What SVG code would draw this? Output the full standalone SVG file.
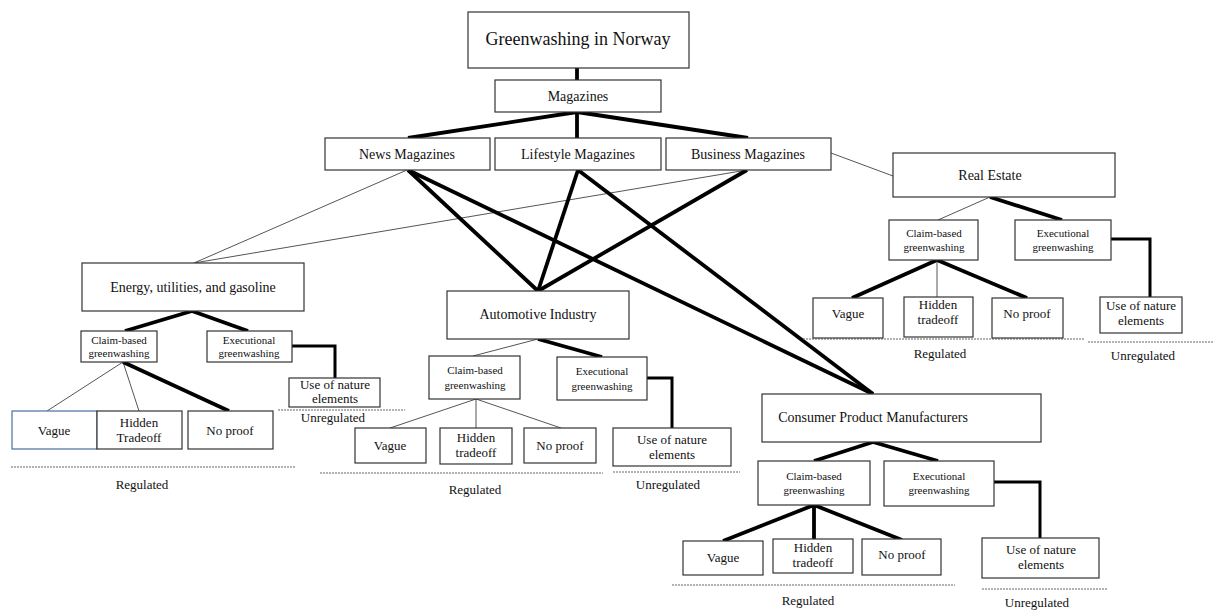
<svg xmlns="http://www.w3.org/2000/svg" width="1213" height="613" viewBox="0 0 1213 613">
<style>
rect.b{fill:#fff;stroke:#333;stroke-width:1.2}
text{font-family:"Liberation Serif","Times New Roman",serif;fill:#111;text-anchor:middle}
.t18{font-size:18px}
.t14{font-size:14px}
.t13{font-size:13px}
.t11{font-size:11px}
.thick{stroke:#000;stroke-width:3.8;fill:none}
.med{stroke:#000;stroke-width:3;fill:none}
.thin{stroke:#555;stroke-width:1;fill:none}
.dash{stroke:#666;stroke-width:1;stroke-dasharray:2 1;fill:none}
</style>
<rect width="1213" height="613" fill="#fff"/>
<g id="connectors">
<line class="thick" x1="577" y1="68" x2="577" y2="80"/>
<line class="thick" x1="577" y1="112" x2="408" y2="138"/>
<line class="thick" x1="577" y1="112" x2="577" y2="138"/>
<line class="thick" x1="577" y1="112" x2="748" y2="138"/>
<line class="thin" x1="407" y1="170" x2="194" y2="263"/>
<line class="thin" x1="747" y1="170" x2="194" y2="263"/>
<line class="thick" x1="408" y1="170" x2="538" y2="291"/>
<line class="thick" x1="578" y1="170" x2="538" y2="291"/>
<line class="thick" x1="747" y1="170" x2="538" y2="291"/>
<line class="thick" x1="408" y1="170" x2="873" y2="394"/>
<line class="thick" x1="578" y1="170" x2="873" y2="394"/>
<line class="thin" x1="831" y1="153" x2="893" y2="176"/>
<!-- Energy -->
<line class="thick" x1="192" y1="311" x2="125" y2="331"/>
<line class="thick" x1="192" y1="311" x2="248" y2="331"/>
<line class="thin" x1="123" y1="362" x2="47" y2="411"/>
<line class="thin" x1="123" y1="362" x2="139" y2="411"/>
<line class="thick" x1="123" y1="362" x2="229" y2="411"/>
<polyline class="med" points="292,346 335,346 335,378"/>
<!-- Automotive -->
<line class="thin" x1="538" y1="339" x2="473" y2="356"/>
<line class="thick" x1="538" y1="339" x2="602" y2="357"/>
<line class="thin" x1="476" y1="399" x2="390" y2="428"/>
<line class="thin" x1="476" y1="399" x2="476" y2="428"/>
<line class="thin" x1="476" y1="399" x2="561" y2="428"/>
<polyline class="med" points="647,378 672,378 672,428"/>
<!-- Real Estate -->
<line class="thin" x1="990" y1="197" x2="938" y2="220"/>
<line class="thick" x1="990" y1="197" x2="1062" y2="220"/>
<line class="thick" x1="937" y1="260" x2="852" y2="298"/>
<line class="thin" x1="937" y1="260" x2="937" y2="298"/>
<line class="thick" x1="937" y1="260" x2="1027" y2="298"/>
<polyline class="med" points="1111,239 1150,239 1150,297"/>
<!-- Consumer -->
<line class="thick" x1="873" y1="442" x2="814" y2="461"/>
<line class="thick" x1="873" y1="442" x2="938" y2="461"/>
<line class="thick" x1="814" y1="505" x2="723" y2="541"/>
<line class="thick" x1="814" y1="505" x2="814" y2="540"/>
<line class="thick" x1="814" y1="505" x2="902" y2="540"/>
<polyline class="med" points="994,482 1040,482 1040,538"/>
<!-- regulated / unregulated separators -->
<line class="dash" x1="11" y1="467" x2="295" y2="467"/>
<line class="dash" x1="278" y1="410" x2="405" y2="410"/>
<line class="dash" x1="320" y1="473" x2="603" y2="473"/>
<line class="dash" x1="613" y1="472" x2="740" y2="472"/>
<line class="dash" x1="803" y1="339" x2="1085" y2="339"/>
<line class="dash" x1="1088" y1="342" x2="1213" y2="342"/>
<line class="dash" x1="672" y1="585" x2="955" y2="585"/>
<line class="dash" x1="982" y1="589" x2="1108" y2="589"/>
</g>
<g id="root"><rect class="b" x="468" y="12" width="221" height="56"/><text class="t18" x="578" y="45">Greenwashing in Norway</text></g>
<g id="magazines"><rect class="b" x="495" y="80" width="166" height="32"/><text class="t14" x="578" y="101">Magazines</text></g>
<g id="news"><rect class="b" x="325" y="138" width="165" height="32"/><text class="t14" x="407" y="159">News Magazines</text></g>
<g id="lifestyle"><rect class="b" x="495" y="138" width="166" height="32"/><text class="t14" x="578" y="159">Lifestyle  Magazines</text></g>
<g id="business"><rect class="b" x="666" y="138" width="165" height="32"/><text class="t14" x="748" y="159">Business  Magazines</text></g>

<g id="energy"><rect class="b" x="82" y="263" width="222" height="48"/><text class="t14" x="193" y="292">Energy, utilities, and gasoline</text></g>
<g id="energy-claim"><rect class="b" x="81" y="331" width="76" height="31"/><text class="t11" x="119" y="344">Claim-based</text><text class="t11" x="119" y="357">greenwashing</text></g>
<g id="energy-exec"><rect class="b" x="207" y="331" width="85" height="31"/><text class="t11" x="249" y="344">Executional</text><text class="t11" x="249" y="357">greenwashing</text></g>
<g id="energy-vague"><rect x="12" y="411" width="85" height="38" fill="#fff" stroke="#4a6fa5" stroke-width="1.2"/><text class="t13" x="54" y="435">Vague</text></g>
<g id="energy-hidden"><rect class="b" x="97" y="411" width="85" height="38"/><text class="t13" x="139" y="427">Hidden</text><text class="t13" x="139" y="442">Tradeoff</text></g>
<g id="energy-noproof"><rect class="b" x="188" y="411" width="85" height="38"/><text class="t13" x="230" y="435">No proof</text></g>
<g id="energy-nature"><rect class="b" x="289" y="378" width="91" height="29"/><text class="t13" x="335" y="389">Use of nature</text><text class="t13" x="335" y="403">elements</text></g>
<g id="energy-labels"><text class="t13" x="333" y="422">Unregulated</text><text class="t13" x="142" y="489">Regulated</text></g>

<g id="auto"><rect class="b" x="447" y="291" width="182" height="48"/><text class="t14" x="538" y="319">Automotive  Industry</text></g>
<g id="auto-claim"><rect class="b" x="429" y="356" width="91" height="43"/><text class="t11" x="475" y="374">Claim-based</text><text class="t11" x="475" y="389">greenwashing</text></g>
<g id="auto-exec"><rect class="b" x="557" y="357" width="90" height="43"/><text class="t11" x="602" y="375">Executional</text><text class="t11" x="602" y="390">greenwashing</text></g>
<g id="auto-vague"><rect class="b" x="355" y="428" width="71" height="35"/><text class="t13" x="390" y="450">Vague</text></g>
<g id="auto-hidden"><rect class="b" x="440" y="428" width="72" height="36"/><text class="t13" x="476" y="442">Hidden</text><text class="t13" x="476" y="457">tradeoff</text></g>
<g id="auto-noproof"><rect class="b" x="524" y="428" width="72" height="35"/><text class="t13" x="560" y="450">No proof</text></g>
<g id="auto-nature"><rect class="b" x="613" y="428" width="118" height="38"/><text class="t13" x="672" y="444">Use of nature</text><text class="t13" x="672" y="459">elements</text></g>
<g id="auto-labels"><text class="t13" x="475" y="494">Regulated</text><text class="t13" x="668" y="489">Unregulated</text></g>

<g id="realestate"><rect class="b" x="893" y="153" width="222" height="44"/><text class="t14" x="990" y="180">Real Estate</text></g>
<g id="re-claim"><rect class="b" x="889" y="220" width="89" height="40"/><text class="t11" x="934" y="237">Claim-based</text><text class="t11" x="934" y="251">greenwashing</text></g>
<g id="re-exec"><rect class="b" x="1015" y="220" width="96" height="40"/><text class="t11" x="1063" y="237">Executional</text><text class="t11" x="1063" y="251">greenwashing</text></g>
<g id="re-vague"><rect class="b" x="813" y="298" width="70" height="40"/><text class="t13" x="848" y="318">Vague</text></g>
<g id="re-hidden"><rect class="b" x="904" y="297" width="69" height="40"/><text class="t13" x="938" y="309">Hidden</text><text class="t13" x="938" y="324">tradeoff</text></g>
<g id="re-noproof"><rect class="b" x="992" y="298" width="71" height="40"/><text class="t13" x="1027" y="318">No proof</text></g>
<g id="re-nature"><rect class="b" x="1100" y="297" width="82" height="36"/><text class="t13" x="1141" y="310">Use of nature</text><text class="t13" x="1141" y="325">elements</text></g>
<g id="re-labels"><text class="t13" x="940" y="358">Regulated</text><text class="t13" x="1143" y="360">Unregulated</text></g>

<g id="consumer"><rect class="b" x="762" y="394" width="279" height="48"/><text class="t14" x="873" y="422">Consumer Product Manufacturers</text></g>
<g id="cp-claim"><rect class="b" x="758" y="461" width="112" height="44"/><text class="t11" x="814" y="480">Claim-based</text><text class="t11" x="814" y="494">greenwashing</text></g>
<g id="cp-exec"><rect class="b" x="884" y="461" width="110" height="45"/><text class="t11" x="939" y="480">Executional</text><text class="t11" x="939" y="494">greenwashing</text></g>
<g id="cp-vague"><rect class="b" x="683" y="541" width="80" height="34"/><text class="t13" x="723" y="562">Vague</text></g>
<g id="cp-hidden"><rect class="b" x="773" y="539" width="80" height="34"/><text class="t13" x="813" y="552">Hidden</text><text class="t13" x="813" y="567">tradeoff</text></g>
<g id="cp-noproof"><rect class="b" x="862" y="539" width="79" height="36"/><text class="t13" x="902" y="559">No proof</text></g>
<g id="cp-nature"><rect class="b" x="982" y="538" width="117" height="40"/><text class="t13" x="1041" y="554">Use of nature</text><text class="t13" x="1041" y="569">elements</text></g>
<g id="cp-labels"><text class="t13" x="808" y="605">Regulated</text><text class="t13" x="1037" y="607">Unregulated</text></g>
</svg>
